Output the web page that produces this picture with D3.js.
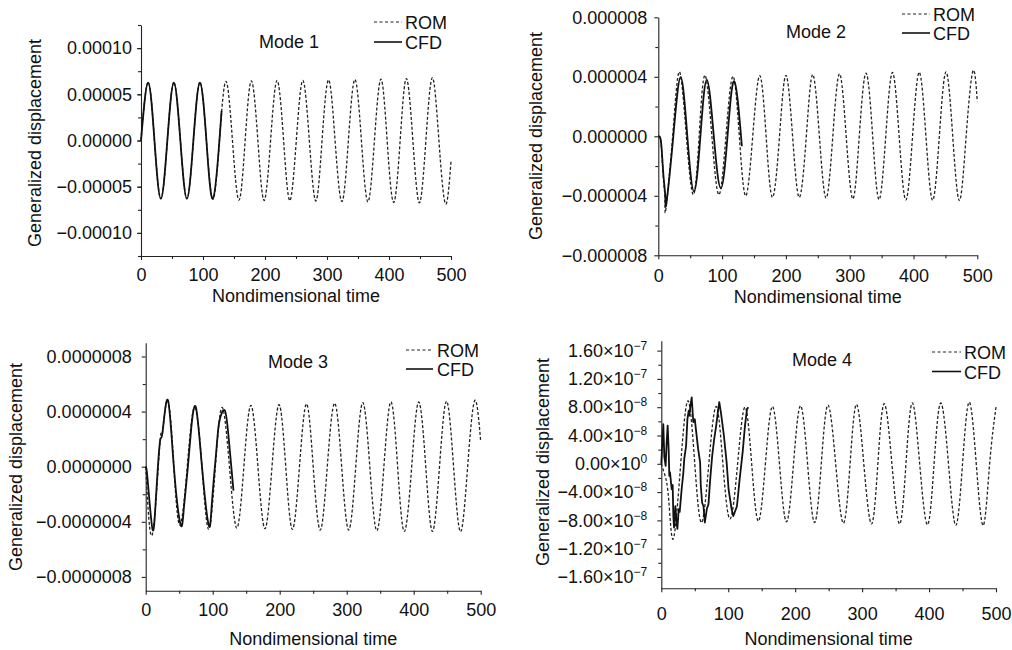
<!DOCTYPE html>
<html>
<head>
<meta charset="utf-8">
<script src="https://cdn.jsdelivr.net/npm/d3@7"></script>
<style>
  body { margin: 0; background: #fff; }
  svg { font-family: "Liberation Sans", Arial, sans-serif; }
</style>
</head>
<body>
<svg id="chart" width="1012" height="650"></svg>
<script>
// x ticks shared by all four panels
const xTicks = [0, 100, 200, 300, 400, 500];
const xMinor = [50, 150, 250, 350, 450];

// Mode 1 : [time, displacement]
const mode1Rom = [[0,0],[11.5,6.3e-5],[21.7,0],[32,-6.3e-5],[42.5,0],[53,6.3e-5],[63.5,0],[74,-6.3e-5],[84.5,0],
  [95,6.3e-5],[105.5,0],[116,-6.35e-5],[126.5,0],[137,6.4e-5],[147.5,0],[158,-6.45e-5],[168,0],[178,6.45e-5],
  [188.5,0],[198.5,-6.5e-5],[209,0],[219.5,6.5e-5],[230,0],[240,-6.5e-5],[250.5,0],[261,6.5e-5],[271.5,0],
  [282,-6.55e-5],[292,0],[302.5,6.55e-5],[313,0],[324,-6.6e-5],[334.5,0],[345,6.6e-5],[355.5,0],[366,-6.65e-5],
  [376.5,0],[387,6.65e-5],[397,0],[407.5,-6.7e-5],[418,0],[428,6.7e-5],[438.5,0],[449,-6.75e-5],[459.5,0],
  [470,6.8e-5],[480.5,0],[491,-6.85e-5],[500,-2.3e-5]];
const mode1Cfd = [[0,0],[11.5,6.25e-5],[21.7,0],[32,-6.3e-5],[42.5,0],[53,6.25e-5],[63.5,0],[74,-6.3e-5],[84.5,0],
  [95,6.25e-5],[105.5,0],[116,-6.3e-5],[126.5,0],[130,3.2e-5]];

// Mode 2
const mode2Rom = [[0,0],[2.5,-0.05e-6],[5,-0.8e-6],[8,-2.8e-6],[10.5,-4.3e-6],[12,-4.86e-6],[22.5,0],[33,4.33e-6],
  [44,0],[55,-3.92e-6],[64,0],[73,4.1e-6],
  [84,0],[95,-3.92e-6],[106,0],[117,4.03e-6],[127,0],[137,-4.0e-6],[148,0],[159,4.08e-6],[169,0],[179,-4.1e-6],
  [190,0],[200,4.1e-6],[210.5,0],[221,-4.1e-6],[232,0],[242,4.15e-6],[252.5,0],[263,-4.15e-6],[273.5,0],
  [284,4.2e-6],[294.5,0],[305,-4.2e-6],[315,0],[325.6,4.25e-6],[336,0],[346,-4.25e-6],[356.5,0],[367,4.3e-6],
  [377.5,0],[388,-4.28e-6],[398.5,0],[409,4.3e-6],[419.5,0],[430,-4.3e-6],[440.5,0],[451,4.33e-6],[461.5,0],
  [472,-4.32e-6],[482.5,0],[493,4.37e-6],[500,2.35e-6]];
const mode2Cfd = [[0,0],[2.5,-0.05e-6],[5,-0.7e-6],[8,-2.6e-6],[11,-4.1e-6],[13,-4.4e-6],[23.5,0],[35,3.97e-6],
  [45.5,0],[56,-3.7e-6],[66,0],[76,3.8e-6],
  [87,0],[98,-3.5e-6],[108.5,0],[119,3.7e-6],[131,-0.67e-6]];

// Mode 3
const mode3Rom = [[0,0],[10,-4.9e-7],[21,1.6e-7],[25,2.5e-7],[33,4.85e-7],[42,0],[51,-4.24e-7],[62,0],[73,4.3e-7],
  [84,0],[94,-4.55e-7],[104,0],[114,4.3e-7],[125,0],[136,-4.45e-7],[146.5,0],[157,4.45e-7],[167.5,0],[178,-4.5e-7],
  [188.5,0],[199,4.5e-7],[209,0],[219,-4.55e-7],[229.5,0],[240,4.55e-7],[250,0],[260.5,-4.6e-7],[271,0],
  [282,4.6e-7],[292.5,0],[303,-4.6e-7],[313.5,0],[324,4.65e-7],[334.5,0],[345,-4.65e-7],[355.5,0],[366,4.7e-7],
  [376,0],[386,-4.7e-7],[397,0],[407.5,4.7e-7],[418,0],[428,-4.7e-7],[438.5,0],[449,4.75e-7],[459.5,0],
  [470,-4.72e-7],[480.5,0],[491,4.8e-7],[500,1.83e-7]];
const mode3Cfd = [[0,0],[3,-1e-7],[10,-4.5e-7],[15,-2.5e-7],[21,1.7e-7],[25,2.45e-7],[33,4.85e-7],[42,0],
  [52,-4.2e-7],[57,-3e-7],[63,0],[68,2.8e-7],[75,4.3e-7],[84,0],[94,-4.24e-7],[99,-2.5e-7],[106,1.5e-7],
  [110,3.3e-7],[118,4.1e-7],[124,2e-7],[131,-1.74e-7]];

// Mode 4
const mode4Rom = [[0,0],[5,-1.5e-8],[11,-5e-8],[18,-1.06e-7],[29,0],[40,8.9e-8],[50,0],[60,-8.3e-8],[71,0],
  [82,8.1e-8],[92,0],[102.6,-7.8e-8],[114,0],[125,8e-8],[135,0],[145,-8.1e-8],[155.5,0],[166,8.1e-8],[176.5,0],
  [187,-8.2e-8],[197.5,0],[208,8.2e-8],[218.5,0],[229,-8.3e-8],[239,0],[249,8.3e-8],[260.5,0],[272,-8.4e-8],
  [282,0],[291.6,8.4e-8],[302.5,0],[314,-8.5e-8],[323.5,0],[333,8.5e-8],[344.5,0],[356,-8.5e-8],[365.5,0],
  [375,8.6e-8],[386,0],[397.6,-8.6e-8],[407.5,0],[417.5,8.6e-8],[429,0],[440,-8.7e-8],[450,0],[460,8.7e-8],
  [470.5,0],[481,-8.7e-8],[490.5,0],[500,8e-8]];
const mode4Cfd = [[0,0],[1.5,3e-8],[3,5.6e-8],[4.5,1e-8],[6.5,-0.3e-8],[8,3e-8],[9.5,5.4e-8],[11,2e-8],[12,-1.7e-8],
  [13,-1.2e-8],[15.5,-3.6e-8],[17,-3e-8],[18,-7.4e-8],[19,-9e-8],[21,-6e-8],[22.5,-8e-8],[24,-9.2e-8],[26,-6.4e-8],
  [27.5,-6.8e-8],[30.4,-3.6e-8],[33,-1.2e-8],[34.3,0.7e-8],[37,2.5e-8],[39,6.3e-8],[41,7.5e-8],[42,6.8e-8],
  [43.5,8.2e-8],[45.4,9.4e-8],[47.8,5.9e-8],[50,6.3e-8],[55,2.1e-8],[58,0.2e-8],[59,-3.1e-8],[61,-5.5e-8],
  [63,-6e-8],[65,-8.3e-8],[68,-6.4e-8],[70.5,-5.7e-8],[72.7,-2.6e-8],[76,1.1e-8],[79,3.5e-8],[82,5.4e-8],
  [84.5,7.3e-8],[86.6,8.7e-8],[89,7.3e-8],[93.5,4e-8],[97.6,0.2e-8],[100.5,-3.6e-8],[105,-6.4e-8],
  [107.5,-7.4e-8],[113,-6e-8],[117,-2.2e-8],[121.5,1.6e-8],[125,5.4e-8],[128,7.7e-8],[130,8e-8]];

// y ticks per panel
const yTicks1 = [-1e-4, -5e-5, 0, 5e-5, 1e-4];
const yTicks2 = [-8e-6, -4e-6, 0, 4e-6, 8e-6];
const yTicks3 = [-8e-7, -4e-7, 0, 4e-7, 8e-7];
const yTicks4 = [-1.6e-7, -1.2e-7, -8e-8, -4e-8, 0, 4e-8, 8e-8, 1.2e-7, 1.6e-7];

const svg = d3.select("#chart");
const FS = 18;

function sciLabel(text, v) {
  const e = v === 0 ? 0 : Math.floor(Math.log10(Math.abs(v)) + 1e-9);
  const m = v / Math.pow(10, e);
  text.text(null);
  text.append("tspan").text(d3.format(".2f")(m) + "×10");
  text.append("tspan").attr("dy", -7).attr("font-size", 12).text(String(e).replace("-", "\u2212"));
}

function drawPanel(p) {
  const x = d3.scaleLinear().domain([0, 500]).range([p.x0, p.x1]);
  const y = d3.scaleLinear().domain(p.yDomain).range([p.yBottom, p.yTop]);
  const g = svg.append("g");

  // minor ticks
  g.append("g").attr("transform", `translate(0,${p.yBottom})`)
    .call(d3.axisBottom(x).tickValues(xMinor).tickSize(3).tickFormat(""))
    .call(a => a.select(".domain").remove());
  g.append("g").attr("transform", `translate(${p.x0},0)`)
    .call(d3.axisLeft(y).tickValues(p.yMinor).tickSize(3).tickFormat(""))
    .call(a => a.select(".domain").remove());

  // major axes
  g.append("g").attr("transform", `translate(0,${p.yBottom})`)
    .call(d3.axisBottom(x).tickValues(xTicks).tickSize(4).tickSizeOuter(0).tickPadding(p.xPad).tickFormat(d3.format("d")));
  const ya = g.append("g").attr("transform", `translate(${p.x0},0)`)
    .call(d3.axisLeft(y).tickValues(p.yTicks).tickSize(4).tickSizeOuter(0).tickPadding(p.yPad)
      .tickFormat(p.sci ? "" : d3.format(p.fmt)));
  if (p.sci) ya.selectAll(".tick text").each(function(d) { sciLabel(d3.select(this), d); });

  g.selectAll(".tick text").attr("font-size", FS).attr("font-family", "Liberation Sans, Arial, sans-serif").attr("fill", "#111");
  g.selectAll(".domain, .tick line").attr("stroke", "#222").attr("stroke-width", 1.1);

  // titles
  g.append("text").attr("x", (p.x0 + p.x1) / 2).attr("y", p.xTitleY).attr("text-anchor", "middle")
    .attr("font-size", FS).attr("fill", "#111").text("Nondimensional time");
  g.append("text").attr("transform", `translate(${p.yTitleX},${p.yTitleY}) rotate(-90)`).attr("text-anchor", "middle")
    .attr("font-size", FS).attr("fill", "#111").text("Generalized displacement");
  g.append("text").attr("x", p.modeX).attr("y", p.modeY).attr("font-size", FS).attr("fill", "#111").text(p.mode);

  // curves
  const line = d3.line().x(d => x(d[0])).y(d => y(d[1])).curve(d3.curveNatural);
  g.append("path").datum(p.rom).attr("d", line).attr("fill", "none")
    .attr("stroke", "#222").attr("stroke-width", 1.3).attr("stroke-dasharray", "3,2");
  g.append("path").datum(p.cfd).attr("d", p.cfdLinear ? line.curve(d3.curveLinear) : line).attr("fill", "none")
    .attr("stroke", "#111").attr("stroke-width", 1.8).attr("stroke-linejoin", "round");

  // legend
  const L = p.legend;
  g.append("line").attr("x1", L.x1).attr("x2", L.x2).attr("y1", L.y1).attr("y2", L.y1)
    .attr("stroke", "#222").attr("stroke-width", 1.2).attr("stroke-dasharray", "3,2.5");
  g.append("line").attr("x1", L.x1).attr("x2", L.x2).attr("y1", L.y2).attr("y2", L.y2)
    .attr("stroke", "#111").attr("stroke-width", 1.6);
  g.append("text").attr("x", L.tx).attr("y", L.y1 + 7).attr("font-size", FS).attr("fill", "#111").text("ROM");
  g.append("text").attr("x", L.tx).attr("y", L.y2 + 7).attr("font-size", FS).attr("fill", "#111").text("CFD");
}

const panels = [
  { mode: "Mode 1", rom: mode1Rom, cfd: mode1Cfd, x0: 141, x1: 451, yTop: 25, yBottom: 256,
    yDomain: [-1.25e-4, 1.25e-4], yTicks: yTicks1, yMinor: d3.range(-1.25e-4, 1.26e-4, 2.5e-5), fmt: ".5f",
    xPad: 8, yPad: 5, xTitleY: 302, yTitleX: 41, yTitleY: 143, modeX: 259, modeY: 48,
    legend: { x1: 374, x2: 402, y1: 22, y2: 42, tx: 405 } },
  { mode: "Mode 2", rom: mode2Rom, cfd: mode2Cfd, x0: 658.3, x1: 977.3, yTop: 17.3, yBottom: 255.3,
    yDomain: [-8e-6, 8e-6], yTicks: yTicks2, yMinor: d3.range(-6e-6, 6.1e-6, 4e-6), fmt: ".6f",
    xPad: 10, yPad: 7, xTitleY: 303, yTitleX: 542, yTitleY: 136, modeX: 786, modeY: 38,
    legend: { x1: 902, x2: 930, y1: 14, y2: 33, tx: 933 } },
  { mode: "Mode 3", rom: mode3Rom, cfd: mode3Cfd, x0: 145.7, x1: 480.7, yTop: 342.7, yBottom: 590.7,
    yDomain: [-9e-7, 9e-7], yTicks: yTicks3, yMinor: d3.range(-6e-7, 6.1e-7, 4e-7), fmt: ".7f",
    xPad: 9, yPad: 10, xTitleY: 645, yTitleX: 22, yTitleY: 467, modeX: 268, modeY: 368,
    legend: { x1: 406, x2: 433, y1: 350, y2: 369, tx: 437 } },
  { mode: "Mode 4", rom: mode4Rom, cfd: mode4Cfd, cfdLinear: true, sci: true, x0: 661.3, x1: 996, yTop: 340.7, yBottom: 588.3,
    yDomain: [-1.76e-7, 1.74e-7], yTicks: yTicks4, yMinor: d3.range(-1.4e-7, 1.41e-7, 4e-8),
    xPad: 15, yPad: 10, xTitleY: 645, yTitleX: 549, yTitleY: 462, modeX: 792, modeY: 366,
    legend: { x1: 932, x2: 961, y1: 352, y2: 371.5, tx: 964 } }
];

panels.forEach(drawPanel);
</script>
</body>
</html>
